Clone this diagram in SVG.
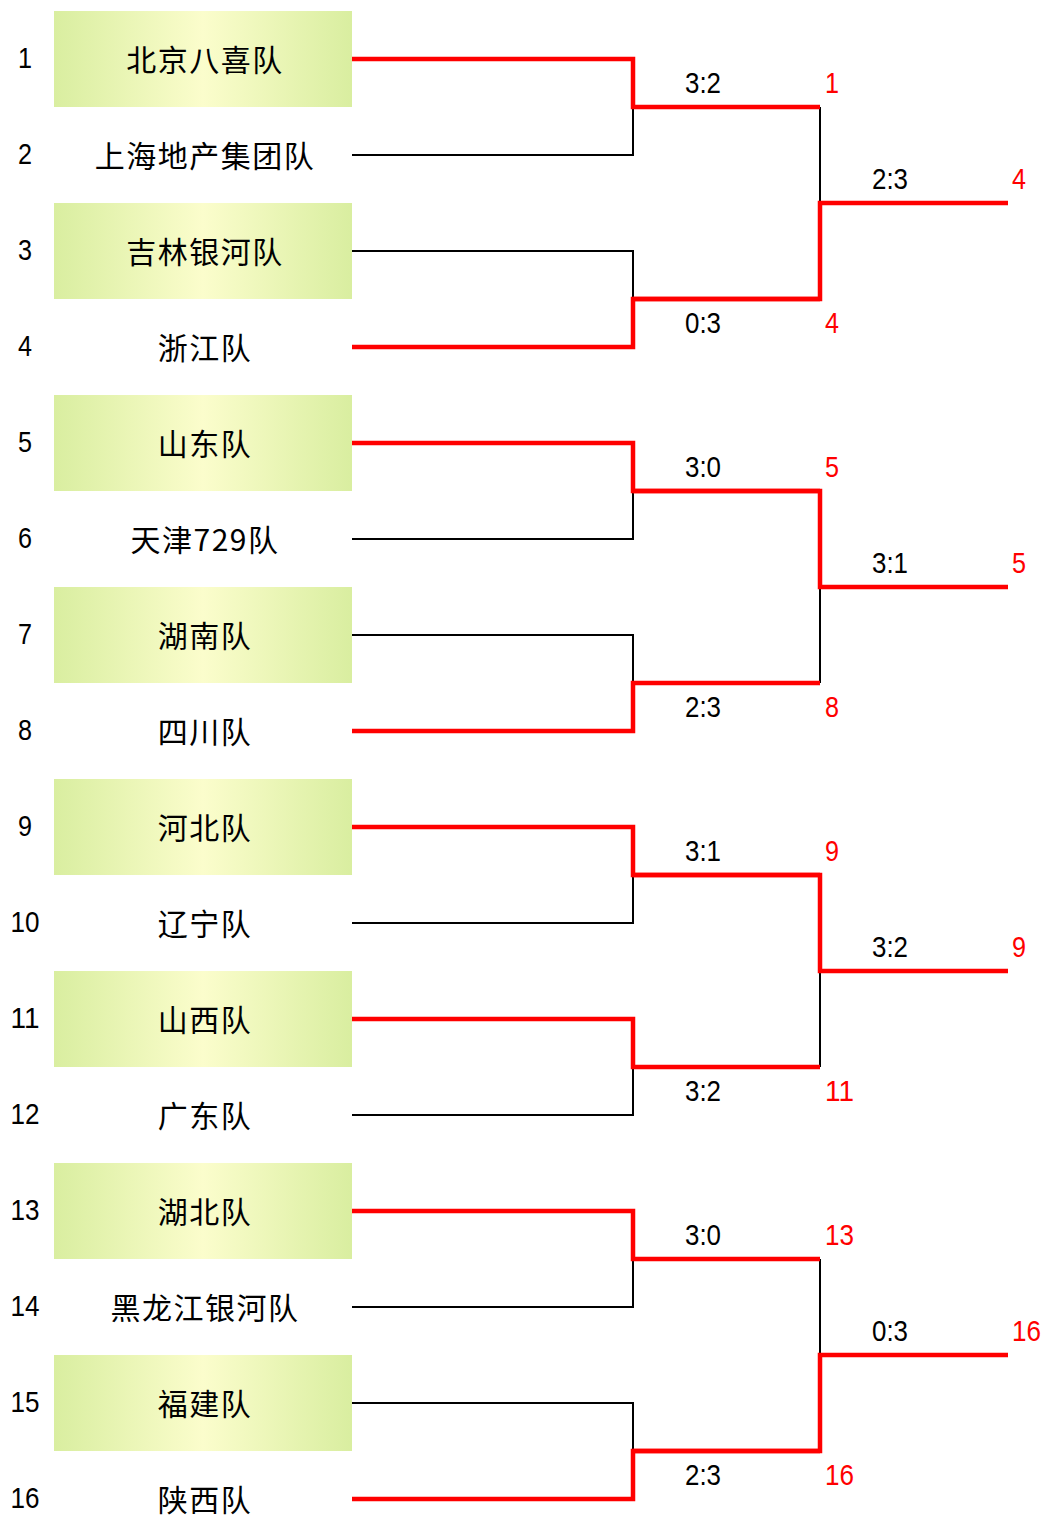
<svg xmlns="http://www.w3.org/2000/svg" width="1044" height="1517" viewBox="0 0 1044 1517">
<style>
.box{fill:url(#g);}
.num{font-family:"Liberation Sans",Arial,sans-serif;font-size:30px;fill:#000;}
.red{fill:#ff0000;}
.name{font-family:"Noto Sans CJK SC","Noto Sans CJK TC",sans-serif;font-size:30px;letter-spacing:1.5px;fill:#000;text-anchor:middle;}
.mid{text-anchor:middle;}
.bl{fill:none;stroke:#000;stroke-width:2;stroke-linejoin:miter;}
.rd{fill:none;stroke:#ff0000;stroke-width:4.5;stroke-linejoin:miter;}
</style>
<defs>
<linearGradient id="g" x1="0" y1="0" x2="1" y2="0">
<stop offset="0" stop-color="#d9eea0"/>
<stop offset="0.5" stop-color="#fbfdcc"/>
<stop offset="1" stop-color="#d9eea0"/>
</linearGradient>
</defs>
<rect width="1044" height="1517" fill="#fff"/>
<g id="teams">
<g id="t1"><rect class="box" x="54" y="11" width="298" height="96"/><text class="num mid" x="25" y="68" textLength="14" lengthAdjust="spacingAndGlyphs">1</text><text class="name" x="205" y="71">北京八喜队</text></g>
<g id="t2"><text class="num mid" x="25" y="164" textLength="14" lengthAdjust="spacingAndGlyphs">2</text><text class="name" x="205" y="167">上海地产集团队</text></g>
<g id="t3"><rect class="box" x="54" y="203" width="298" height="96"/><text class="num mid" x="25" y="260" textLength="14" lengthAdjust="spacingAndGlyphs">3</text><text class="name" x="205" y="263">吉林银河队</text></g>
<g id="t4"><text class="num mid" x="25" y="356" textLength="14" lengthAdjust="spacingAndGlyphs">4</text><text class="name" x="205" y="359">浙江队</text></g>
<g id="t5"><rect class="box" x="54" y="395" width="298" height="96"/><text class="num mid" x="25" y="452" textLength="14" lengthAdjust="spacingAndGlyphs">5</text><text class="name" x="205" y="455">山东队</text></g>
<g id="t6"><text class="num mid" x="25" y="548" textLength="14" lengthAdjust="spacingAndGlyphs">6</text><text class="name" x="205" y="551">天津729队</text></g>
<g id="t7"><rect class="box" x="54" y="587" width="298" height="96"/><text class="num mid" x="25" y="644" textLength="14" lengthAdjust="spacingAndGlyphs">7</text><text class="name" x="205" y="647">湖南队</text></g>
<g id="t8"><text class="num mid" x="25" y="740" textLength="14" lengthAdjust="spacingAndGlyphs">8</text><text class="name" x="205" y="743">四川队</text></g>
<g id="t9"><rect class="box" x="54" y="779" width="298" height="96"/><text class="num mid" x="25" y="836" textLength="14" lengthAdjust="spacingAndGlyphs">9</text><text class="name" x="205" y="839">河北队</text></g>
<g id="t10"><text class="num mid" x="25" y="932" textLength="29" lengthAdjust="spacingAndGlyphs">10</text><text class="name" x="205" y="935">辽宁队</text></g>
<g id="t11"><rect class="box" x="54" y="971" width="298" height="96"/><text class="num mid" x="25" y="1028" textLength="29" lengthAdjust="spacingAndGlyphs">11</text><text class="name" x="205" y="1031">山西队</text></g>
<g id="t12"><text class="num mid" x="25" y="1124" textLength="29" lengthAdjust="spacingAndGlyphs">12</text><text class="name" x="205" y="1127">广东队</text></g>
<g id="t13"><rect class="box" x="54" y="1163" width="298" height="96"/><text class="num mid" x="25" y="1220" textLength="29" lengthAdjust="spacingAndGlyphs">13</text><text class="name" x="205" y="1223">湖北队</text></g>
<g id="t14"><text class="num mid" x="25" y="1316" textLength="29" lengthAdjust="spacingAndGlyphs">14</text><text class="name" x="205" y="1319">黑龙江银河队</text></g>
<g id="t15"><rect class="box" x="54" y="1355" width="298" height="96"/><text class="num mid" x="25" y="1412" textLength="29" lengthAdjust="spacingAndGlyphs">15</text><text class="name" x="205" y="1415">福建队</text></g>
<g id="t16"><text class="num mid" x="25" y="1508" textLength="29" lengthAdjust="spacingAndGlyphs">16</text><text class="name" x="205" y="1511">陕西队</text></g>
</g>
<g id="connectors">
<path class="bl" d="M352,155 H633 V107"/>
<path class="bl" d="M352,251 H633 V299"/>
<path class="bl" d="M352,539 H633 V491"/>
<path class="bl" d="M352,635 H633 V683"/>
<path class="bl" d="M352,923 H633 V875"/>
<path class="bl" d="M352,1115 H633 V1067"/>
<path class="bl" d="M352,1307 H633 V1259"/>
<path class="bl" d="M352,1403 H633 V1451"/>
<path class="bl" d="M820,107 V203"/>
<path class="bl" d="M820,683 V587"/>
<path class="bl" d="M820,1067 V971"/>
<path class="bl" d="M820,1259 V1355"/>
<path class="rd" d="M352,59 H633 V107 H820"/>
<path class="rd" d="M352,347 H633 V299 H820"/>
<path class="rd" d="M352,443 H633 V491 H820"/>
<path class="rd" d="M352,731 H633 V683 H820"/>
<path class="rd" d="M352,827 H633 V875 H820"/>
<path class="rd" d="M352,1019 H633 V1067 H820"/>
<path class="rd" d="M352,1211 H633 V1259 H820"/>
<path class="rd" d="M352,1499 H633 V1451 H820"/>
<path class="rd" d="M633,299 H820 V203 H1008"/>
<path class="rd" d="M633,491 H820 V587 H1008"/>
<path class="rd" d="M633,875 H820 V971 H1008"/>
<path class="rd" d="M633,1451 H820 V1355 H1008"/>
</g>
<g id="scores">
<text class="num mid" x="703" y="93" textLength="36" lengthAdjust="spacingAndGlyphs">3:2</text>
<text class="num mid" x="703" y="333" textLength="36" lengthAdjust="spacingAndGlyphs">0:3</text>
<text class="num mid" x="703" y="477" textLength="36" lengthAdjust="spacingAndGlyphs">3:0</text>
<text class="num mid" x="703" y="717" textLength="36" lengthAdjust="spacingAndGlyphs">2:3</text>
<text class="num mid" x="703" y="861" textLength="36" lengthAdjust="spacingAndGlyphs">3:1</text>
<text class="num mid" x="703" y="1101" textLength="36" lengthAdjust="spacingAndGlyphs">3:2</text>
<text class="num mid" x="703" y="1245" textLength="36" lengthAdjust="spacingAndGlyphs">3:0</text>
<text class="num mid" x="703" y="1485" textLength="36" lengthAdjust="spacingAndGlyphs">2:3</text>
<text class="num mid" x="890" y="189" textLength="36" lengthAdjust="spacingAndGlyphs">2:3</text>
<text class="num mid" x="890" y="573" textLength="36" lengthAdjust="spacingAndGlyphs">3:1</text>
<text class="num mid" x="890" y="957" textLength="36" lengthAdjust="spacingAndGlyphs">3:2</text>
<text class="num mid" x="890" y="1341" textLength="36" lengthAdjust="spacingAndGlyphs">0:3</text>
</g>
<g id="winners">
<text class="num red" x="825" y="93" textLength="14" lengthAdjust="spacingAndGlyphs">1</text>
<text class="num red" x="825" y="333" textLength="14" lengthAdjust="spacingAndGlyphs">4</text>
<text class="num red" x="825" y="477" textLength="14" lengthAdjust="spacingAndGlyphs">5</text>
<text class="num red" x="825" y="717" textLength="14" lengthAdjust="spacingAndGlyphs">8</text>
<text class="num red" x="825" y="861" textLength="14" lengthAdjust="spacingAndGlyphs">9</text>
<text class="num red" x="825" y="1101" textLength="29" lengthAdjust="spacingAndGlyphs">11</text>
<text class="num red" x="825" y="1245" textLength="29" lengthAdjust="spacingAndGlyphs">13</text>
<text class="num red" x="825" y="1485" textLength="29" lengthAdjust="spacingAndGlyphs">16</text>
<text class="num red" x="1012" y="189" textLength="14" lengthAdjust="spacingAndGlyphs">4</text>
<text class="num red" x="1012" y="573" textLength="14" lengthAdjust="spacingAndGlyphs">5</text>
<text class="num red" x="1012" y="957" textLength="14" lengthAdjust="spacingAndGlyphs">9</text>
<text class="num red" x="1012" y="1341" textLength="29" lengthAdjust="spacingAndGlyphs">16</text>
</g>
</svg>
